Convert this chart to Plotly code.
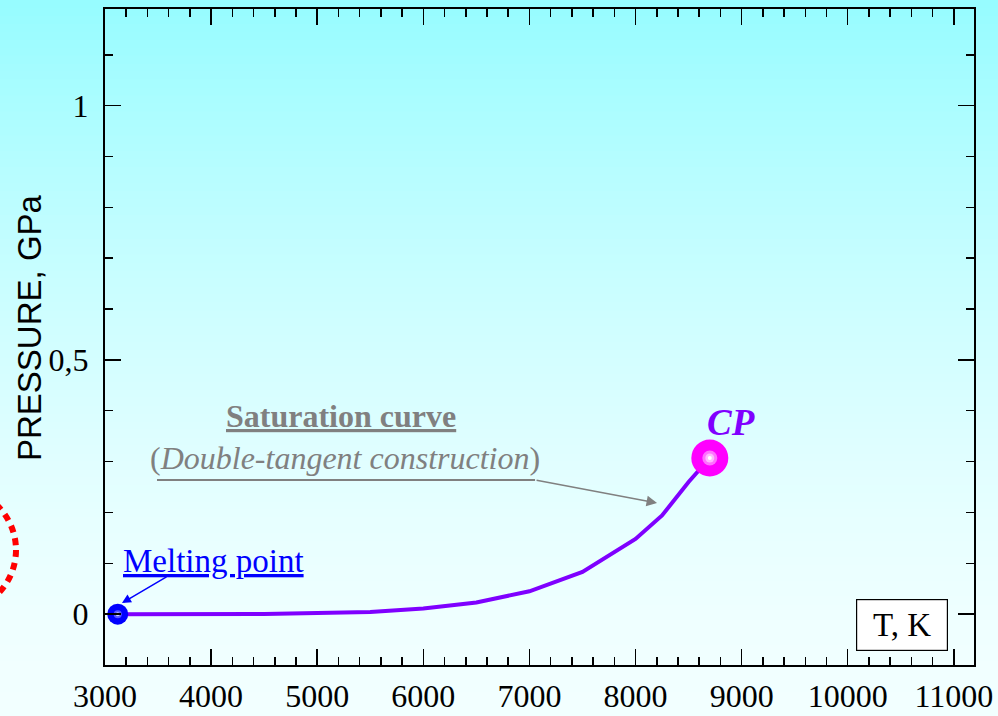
import plotly.graph_objects as go

# ---- data ----
T_sat = [3120, 4500, 5500, 6000, 6500, 7000, 7500, 8000, 8250, 8500, 8700]
P_sat = [0.0, 0.0005, 0.004, 0.011, 0.023, 0.045, 0.083, 0.148, 0.194, 0.26, 0.307]
melting_T = [3120]
melting_P = [0.0]
cp_T = [8700]
cp_P = [0.307]
x_range = [3000, 11190]
y_range = [-0.1, 1.19]
y_title = "PRESSURE, GPa"

W, H = 998, 716
ML, MR, MT, MB = 105, 24, 9, 51
PW, PH = W - ML - MR, H - MT - MB


def px2paper_x(px):
    return (px - ML) / PW


def px2paper_y(py):
    return (H - MB - py) / PH


fig = go.Figure()

# saturation curve
fig.add_trace(go.Scatter(x=T_sat, y=P_sat, mode="lines",
                         line=dict(color="#7F00FF", width=4),
                         hoverinfo="skip", showlegend=False))

# melting point ball (solid + highlight)
for size, col in [(21, "#0000FF"), (8, "#5858FF"), (4, "#D0D0FF")]:
    fig.add_trace(go.Scatter(x=melting_T, y=melting_P, mode="markers",
                             marker=dict(size=size, color=col, line=dict(width=0)),
                             hoverinfo="skip", showlegend=False))

# critical point ball (solid + highlight)
for size, col in [(37, "#FF00FF"), (15, "#FF70FF"), (9, "#FFB8FF"), (4, "#FFFFFF")]:
    fig.add_trace(go.Scatter(x=cp_T, y=cp_P, mode="markers",
                             marker=dict(size=size, color=col, line=dict(width=0)),
                             hoverinfo="skip", showlegend=False))

shapes = []
# background gradient bands (whole page)
N = 90
top = (150, 252, 255)
bot = (242, 255, 255)
for i in range(N):
    t = (i + 0.5) / N
    f = (1 - t) ** 1.6
    c = tuple(int(round(b + (a - b) * f)) for a, b in zip(top, bot))
    y0 = H * i / N
    y1 = H * (i + 1) / N + 1
    shapes.append(dict(type="rect", xref="paper", yref="paper",
                       x0=px2paper_x(0), x1=px2paper_x(W),
                       y0=px2paper_y(y1), y1=px2paper_y(y0),
                       fillcolor="rgb(%d,%d,%d)" % c, line=dict(width=0),
                       layer="below"))

# red dotted circle at the left edge
shapes.append(dict(type="circle", xref="paper", yref="paper",
                   x0=px2paper_x(-108), x1=px2paper_x(16),
                   y0=px2paper_y(612), y1=px2paper_y(488),
                   line=dict(color="#FF0000", width=6, dash="7px,6px"),
                   layer="above"))

# underline under the "Double-tangent construction" label
shapes.append(dict(type="line", xref="x", yref="y",
                   x0=3490, x1=7053, y0=0.264, y1=0.264,
                   line=dict(color="#808080", width=2)))

annotations = [
    dict(x=px2paper_x(29), y=px2paper_y(328), xref="paper", yref="paper",
         xanchor="center", yanchor="middle",
         showarrow=False, text=y_title, textangle=-90,
         font=dict(family="Liberation Sans", size=33, color="#000000")),
    dict(x=5224, y=0.39, xref="x", yref="y", showarrow=False,
         text="<u><b>Saturation curve</b></u>",
         font=dict(family="Liberation Serif", size=32, color="#808080")),
    dict(x=5262, y=0.307, xref="x", yref="y", showarrow=False,
         text="(<i>Double-tangent construction</i>)",
         font=dict(family="Liberation Serif", size=32, color="#808080")),
    dict(x=8203, y=0.2187, xref="x", yref="y", text="", showarrow=True,
         ax=-122, ay=-23, arrowhead=2, arrowsize=1.4, arrowwidth=1.5,
         arrowcolor="#808080"),
    dict(x=4018, y=0.105, xref="x", yref="y", showarrow=False,
         text="<u>Melting point</u>",
         font=dict(family="Liberation Serif", size=33, color="#0000FF")),
    dict(x=3160, y=0.022, xref="x", yref="y", text="", showarrow=True,
         ax=46, ay=-27, arrowhead=2, arrowsize=1.2, arrowwidth=1.5,
         arrowcolor="#0000FF"),
    dict(x=8900, y=0.376, xref="x", yref="y", showarrow=False,
         text="<b><i>CP</i></b>",
         font=dict(family="Liberation Serif", size=37, color="#8000FF")),
    dict(x=10512, y=-0.0212, xref="x", yref="y", showarrow=False,
         text="T, K", width=88, height=48, borderpad=1,
         bordercolor="#000000", borderwidth=1.2, bgcolor="#FFFFFF",
         font=dict(family="Liberation Serif", size=33, color="#000000")),
]

axis_common = dict(showline=True, linecolor="#000000", linewidth=2,
                   mirror="ticks", ticks="inside", ticklen=16, tickwidth=1.5,
                   tickcolor="#000000", showgrid=False, zeroline=False,
                   automargin=False,
                   tickfont=dict(family="Liberation Serif", size=32, color="#000000"))

fig.update_layout(
    width=W, height=H,
    margin=dict(l=ML, r=MR, t=MT, b=MB, pad=0, autoexpand=False),
    paper_bgcolor="rgba(0,0,0,0)", plot_bgcolor="rgba(0,0,0,0)",
    separators=",.",
    shapes=shapes, annotations=annotations, showlegend=False,
    xaxis=dict(range=x_range, tick0=3000, dtick=1000, tickformat="d",
               minor=dict(dtick=200, ticks="inside", ticklen=8, tickwidth=1.5,
                          tickcolor="#000000"),
               ticklabelstandoff=2, **axis_common),
    yaxis=dict(range=y_range, tick0=0, dtick=0.5,
               minor=dict(dtick=0.1, ticks="inside", ticklen=8, tickwidth=1.5,
                          tickcolor="#000000"),
               ticklabelstandoff=8, **axis_common),
)

fig.write_html("out.html",
               config={"displayModeBar": False, "staticPlot": True},
               post_script="document.body.style.margin='0';document.body.style.overflow='hidden';")
